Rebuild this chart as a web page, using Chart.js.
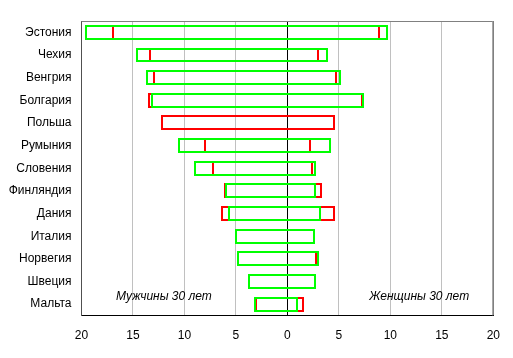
<!DOCTYPE html>
<html>
<head>
<meta charset="utf-8">
<script src="https://cdn.jsdelivr.net/npm/chart.js@4/dist/chart.umd.min.js"></script>
<style>
html,body{margin:0;padding:0;background:#fff;}
#wrap{width:513px;height:358px;}
</style>
</head>
<body>
<div id="wrap"><canvas id="c" width="513" height="358"></canvas></div>
<script>
const categories = ['Эстония','Чехия','Венгрия','Болгария','Польша','Румыния','Словения','Финляндия','Дания','Италия','Норвегия','Швеция','Мальта'];
// green ranges [men (negative), women]
const greenRanges = [[-19.7,9.8],[-14.75,3.9],[-13.7,5.25],[-13.25,7.45],null,[-10.6,4.25],[-9.1,2.8],[-6.05,2.8],[-5.8,3.3],[-5.1,2.7],[-4.9,3.05],[-3.85,2.8],[-3.25,1.0]];
// red ranges
const redRanges = [[-17.0,9.0],[-13.4,3.1],[-13.1,4.8],[-13.55,7.3],[-12.3,4.65],[-8.1,2.3],[-7.3,2.5],[-6.15,3.4],[-6.45,4.65],null,[-4.9,2.85],null,[-3.1,1.6]];
const xTicks = [-20,-15,-10,-5,0,5,10,15,20];
const noteMen = 'Мужчины 30 лет';
const noteWomen = 'Женщины 30 лет';

const FONT = "'Liberation Sans', Arial, sans-serif";

// snap bar rectangles to whole pixels so the outlines stay crisp
const snapPlugin = {
  id:'snap',
  beforeDatasetsDraw(chart){
    chart.data.datasets.forEach((ds, i) => {
      const meta = chart.getDatasetMeta(i);
      meta.data.forEach(el => {
        if (el.x == null || isNaN(el.x)) return;
        const top = Math.round(el.y - el.height/2);
        const bottom = Math.round(el.y + el.height/2);
        el.x = Math.round(el.x);
        el.base = Math.round(el.base);
        el.y = (top + bottom) / 2;
        el.height = bottom - top;
      });
    });
  }
};

const framePlugin = {
  id:'frame',
  afterDatasetsDraw(chart){
    const {ctx, chartArea:a} = chart;
    ctx.save();
    ctx.strokeStyle = '#808080';
    ctx.lineWidth = 1;
    ctx.beginPath();
    ctx.moveTo(a.left, a.top+0.5);
    ctx.lineTo(a.right-0.5, a.top+0.5);
    ctx.lineTo(a.right-0.5, a.bottom);
    ctx.stroke();
    ctx.font = "italic 12px " + FONT;
    ctx.fillStyle = '#000';
    ctx.textAlign = 'center';
    ctx.textBaseline = 'middle';
    const xs = chart.scales.x;
    const y = a.bottom - 19;
    ctx.fillText(noteMen, xs.getPixelForValue(-12.0), y);
    ctx.fillText(noteWomen, xs.getPixelForValue(12.8), y);
    ctx.restore();
  }
};

new Chart(document.getElementById('c'), {
  type:'bar',
  data:{
    labels:categories,
    datasets:[
      {label:'green', data:greenRanges, backgroundColor:'rgba(0,0,0,0)', borderColor:'#00ff00', borderWidth:2, borderSkipped:false},
      {label:'red', data:redRanges, backgroundColor:'rgba(0,0,0,0)', borderColor:'#ff0000', borderWidth:2, borderSkipped:false}
    ]
  },
  options:{
    indexAxis:'y',
    responsive:false,
    animation:false,
    layout:{padding:{left:0,top:21,right:18,bottom:0}},
    datasets:{bar:{grouped:false, barPercentage:0.66, categoryPercentage:1}},
    plugins:{legend:{display:false}, tooltip:{enabled:false}},
    scales:{
      x:{
        min:-20, max:20,
        afterBuildTicks(s){ s.ticks = xTicks.map(v=>({value:v})); },
        afterFit(s){ s.height = 42.5; },
        ticks:{
          padding:13,
          color:'#000',
          font:{family:FONT, size:12},
          callback:(v)=>String(Math.abs(v))
        },
        grid:{
          drawTicks:false,
          color:(c)=> c.tick && c.tick.value===0 ? '#000' : (c.tick && Math.abs(c.tick.value)===20 ? '#808080' : '#c0c0c0'),
          lineWidth:1
        },
        border:{display:true, color:'#000', width:1}
      },
      y:{
        afterFit(s){ s.width = 81.5; },
        ticks:{padding:10, color:'#000', font:{family:FONT, size:12}},
        grid:{display:false, drawTicks:false},
        border:{display:true, color:'#505050', width:1}
      }
    }
  },
  plugins:[snapPlugin, framePlugin]
});
</script>
</body>
</html>
